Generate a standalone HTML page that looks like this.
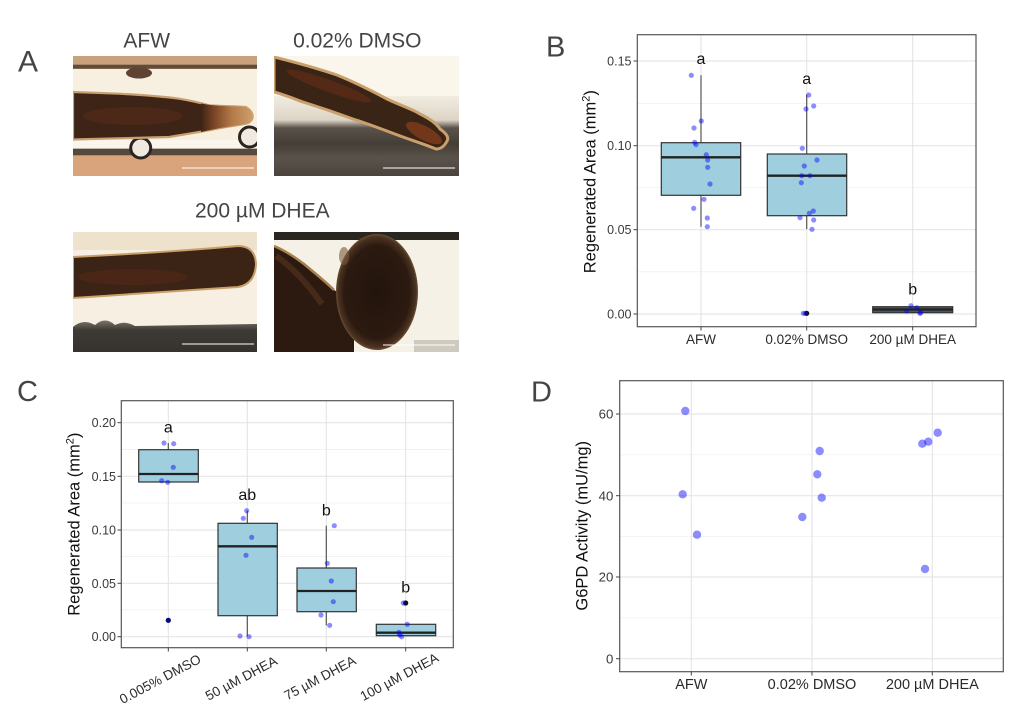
<!DOCTYPE html>
<html><head><meta charset="utf-8"><style>
html,body{margin:0;padding:0;background:#fff;}
svg{display:block;font-family:"Liberation Sans",Arial,sans-serif;}
</style></head><body>
<svg width="1026" height="710" viewBox="0 0 1026 710" xmlns="http://www.w3.org/2000/svg">
<defs>
<linearGradient id="tip1" x1="0" x2="1" y1="0" y2="0"><stop offset="0" stop-color="#3d2416"/><stop offset="0.25" stop-color="#7a4426"/><stop offset="0.6" stop-color="#b37a48"/><stop offset="1" stop-color="#cf9e6a"/></linearGradient>
<linearGradient id="bot2" x1="0" x2="0" y1="0" y2="1"><stop offset="0" stop-color="#f2ece0"/><stop offset="0.3" stop-color="#dcd4c6"/><stop offset="0.4" stop-color="#5a524a"/><stop offset="0.6" stop-color="#443e38"/><stop offset="0.78" stop-color="#5a524a"/><stop offset="1" stop-color="#4a443e"/></linearGradient>
<linearGradient id="bot3" x1="0" x2="0" y1="0" y2="1"><stop offset="0" stop-color="#7a746c"/><stop offset="0.3" stop-color="#3e3a35"/><stop offset="1" stop-color="#35312c"/></linearGradient>
<radialGradient id="ball" cx="0.5" cy="0.5" r="0.5"><stop offset="0" stop-color="#22140c"/><stop offset="0.8" stop-color="#2c1a10"/><stop offset="0.95" stop-color="#4a3220"/><stop offset="1" stop-color="#6a5032"/></radialGradient>
</defs>
<rect width="1026" height="710" fill="#fff"/>

<!-- ===== Panel A ===== -->
<text x="18" y="71.7" font-size="30" fill="#444">A</text>
<text x="146.7" y="47.3" font-size="21" fill="#444" text-anchor="middle">AFW</text>
<text x="357.3" y="47.3" font-size="21" fill="#444" text-anchor="middle">0.02% DMSO</text>
<text x="262.3" y="217.3" font-size="21" fill="#444" text-anchor="middle">200 µM DHEA</text>

<!-- image 1 -->
<svg x="73" y="56" width="184" height="120">
<rect width="184" height="120" fill="#f7efe0"/>
<rect width="184" height="13" fill="#c9a17b"/>
<rect y="8.7" width="184" height="4" fill="#5e4c3c"/>
<ellipse cx="66" cy="17" rx="13" ry="5.5" fill="#5e4232"/>
<rect y="84" width="184" height="9" fill="#faf6ee"/>
<rect y="92.7" width="184" height="27.3" fill="#d9a37c"/>
<rect y="92.7" width="184" height="6.6" fill="#55483c"/>
<circle cx="67.7" cy="92" r="10" fill="#efe9df" stroke="#2a2420" stroke-width="3"/>
<circle cx="176.5" cy="81" r="10" fill="#efe9df" stroke="#2a2420" stroke-width="3"/>
<path d="M0,36 C15,36.5 30,37 46,37.7 C70,39 90,40.5 106,42.7 C120,45 128,47 136,49.3 C150,50 165,50.5 172.7,51 Q181,56 179.3,62.7 Q177,67 172.7,67.7 C160,70 145,72 136,74.3 C120,77 108,79 96,81 C60,82 30,83 0,83.5 Z" fill="#3d2416" stroke="#c8a070" stroke-width="2.2"/>
<path d="M128,47.5 C140,49.8 150,50 172.7,51 Q181,56 179.3,62.7 Q177,67 172.7,67.7 C160,70 145,72 128,76 Z" fill="url(#tip1)"/>
<ellipse cx="60" cy="60" rx="50" ry="9" fill="#5a2c18" opacity="0.5"/>
<line x1="109" y1="112" x2="181" y2="112" stroke="#fff" stroke-width="1"/>
</svg>

<!-- image 2 -->
<svg x="274" y="56" width="185" height="120">
<rect width="185" height="120" fill="#faf6ec"/>
<rect y="40" width="185" height="80" fill="url(#bot2)"/>
<path d="M0,1 C20,6 45,13 63,19 C85,28 100,36 113,43 C128,50 140,54 146,58 C156,63 162,67 166,73 Q176,80 173,85 Q169,93 162,93 C150,88 140,85 129,81 C110,74 95,68 79,63 C60,56 45,51 29,46 C18,42 8,38 0,36 Z" fill="#3a2416" stroke="#c9a06c" stroke-width="3"/>
<ellipse cx="150" cy="77" rx="20" ry="7" transform="rotate(28 150 77)" fill="#8a401e" opacity="0.7"/>
<ellipse cx="55" cy="30" rx="45" ry="6" transform="rotate(20 55 30)" fill="#6a2e18" opacity="0.55"/>
<line x1="109" y1="112" x2="181" y2="112" stroke="#fff" stroke-width="1"/>
</svg>

<!-- image 3 -->
<svg x="73" y="232" width="184" height="120">
<rect width="184" height="120" fill="#f6efe2"/>
<rect width="184" height="18" fill="#ead9c0" opacity="0.6"/>
<path d="M0,95 Q10,86 22,93 Q32,84 42,93 Q52,88 62,94 L184,92 L184,120 L0,120 Z" fill="url(#bot3)"/>
<path d="M0,25 C60,22 120,18 165,14 Q182,14 183,32 Q182,52 165,55 C120,58 60,62 0,66 Z" fill="#3b2316" stroke="#c8a068" stroke-width="2"/>
<ellipse cx="60" cy="45" rx="55" ry="8" fill="#5a2a18" opacity="0.5"/>
<line x1="109" y1="112" x2="181" y2="112" stroke="#fff" stroke-width="1"/>
</svg>

<!-- image 4 -->
<svg x="274" y="232" width="185" height="120">
<rect width="185" height="120" fill="#f6f1e6"/>
<rect x="140" y="108" width="45" height="12" fill="#cfcac0"/>
<path d="M0,14 C10,18 22,26 30,32 C42,42 52,50 60,58 L80,70 L80,120 L0,120 Z" fill="#2c1a10"/>
<path d="M0,14 C10,18 22,26 30,32 C42,42 52,50 60,58" stroke="#a8804e" stroke-width="2.5" fill="none"/>
<path d="M2,24 C14,32 30,47 48,72" stroke="#5a3420" stroke-width="6" fill="none" opacity="0.6"/>
<rect width="185" height="8" fill="#2a2620"/>
<ellipse cx="103" cy="60" rx="41" ry="58" fill="url(#ball)"/>
<ellipse cx="70" cy="24" rx="5" ry="9" fill="#7a5a3a" opacity="0.6"/>
<line x1="109" y1="113" x2="181" y2="113" stroke="#fff" stroke-width="1"/>
</svg>

<!-- ===== Panel B ===== -->
<text x="546" y="56.7" font-size="29" fill="#444">B</text>
<g stroke="#f1f1f1" stroke-width="0.8">
<line x1="637.3" x2="976" y1="271.8" y2="271.8"/>
<line x1="637.3" x2="976" y1="187.7" y2="187.7"/>
<line x1="637.3" x2="976" y1="103.3" y2="103.3"/>
</g>
<g stroke="#e2e2e2" stroke-width="1">
<line x1="637.3" x2="976" y1="314" y2="314"/>
<line x1="637.3" x2="976" y1="229.7" y2="229.7"/>
<line x1="637.3" x2="976" y1="145.7" y2="145.7"/>
<line x1="637.3" x2="976" y1="61" y2="61"/>
<line x1="701" x2="701" y1="34.7" y2="326.7"/>
<line x1="806.7" x2="806.7" y1="34.7" y2="326.7"/>
<line x1="912.7" x2="912.7" y1="34.7" y2="326.7"/>
</g>
<g stroke="#555" stroke-width="1.2">
<line x1="701" x2="701" y1="75.3" y2="142.7"/>
<line x1="701" x2="701" y1="195.3" y2="226.7"/>
<line x1="806.7" x2="806.7" y1="95" y2="154"/>
<line x1="806.7" x2="806.7" y1="215.7" y2="229"/>
</g>
<g fill="#9fcfdf" stroke="#333" stroke-width="1.2">
<rect x="661.3" y="142.7" width="79.4" height="52.6"/>
<rect x="767.3" y="154" width="79.4" height="61.7"/>
<rect x="872.7" y="306.7" width="80" height="6" fill="#4a5a60"/>
</g>
<g stroke="#222" stroke-width="2.3">
<line x1="661.3" x2="740.7" y1="157.3" y2="157.3"/>
<line x1="767.3" x2="846.7" y1="175.7" y2="175.7"/>
<line x1="872.7" x2="952.7" y1="309.5" y2="309.5"/>
</g>
<circle cx="806.7" cy="313.3" r="2.6" fill="#111"/>
<g fill="#0000ff" fill-opacity="0.45">
<circle cx="691.3" cy="75.3" r="2.6"/><circle cx="701.3" cy="121" r="2.6"/><circle cx="694" cy="128" r="2.6"/><circle cx="694.7" cy="142.3" r="2.6"/><circle cx="696" cy="144.7" r="2.6"/><circle cx="706.3" cy="154.7" r="2.6"/><circle cx="707.7" cy="160" r="2.6"/><circle cx="707.7" cy="167.3" r="2.6"/><circle cx="710" cy="184" r="2.6"/><circle cx="704" cy="199.3" r="2.6"/><circle cx="693.7" cy="208.3" r="2.6"/><circle cx="707.3" cy="218" r="2.6"/><circle cx="707.3" cy="226.7" r="2.6"/>
<circle cx="808.7" cy="95" r="2.6"/><circle cx="806" cy="109" r="2.6"/><circle cx="813.7" cy="106" r="2.6"/><circle cx="802.3" cy="148.3" r="2.6"/><circle cx="817" cy="160" r="2.6"/><circle cx="804.3" cy="166" r="2.6"/><circle cx="801.7" cy="175.7" r="2.6"/><circle cx="810" cy="175.7" r="2.6"/><circle cx="801.3" cy="182.7" r="2.6"/><circle cx="813.3" cy="211" r="2.6"/><circle cx="809.3" cy="213.3" r="2.6"/><circle cx="800" cy="217.7" r="2.6"/><circle cx="813.7" cy="220" r="2.6"/><circle cx="812" cy="229.3" r="2.6"/><circle cx="803.3" cy="313.3" r="2.6"/><circle cx="805.3" cy="313.3" r="2.6"/>
<circle cx="906.7" cy="311" r="2.6"/><circle cx="911" cy="305.7" r="2.6"/><circle cx="916.7" cy="307.7" r="2.6"/><circle cx="920.7" cy="312.7" r="2.6"/><circle cx="920" cy="313.3" r="2.6"/>
</g>
<g font-size="16" fill="#111" text-anchor="middle">
<text x="701" y="64">a</text>
<text x="806.7" y="84">a</text>
<text x="912.7" y="294.3">b</text>
</g>
<rect x="637.3" y="34.7" width="338.7" height="292" fill="none" stroke="#555" stroke-width="1.2"/>
<g stroke="#444" stroke-width="1">
<line x1="633.5" x2="637.3" y1="314" y2="314"/><line x1="633.5" x2="637.3" y1="229.7" y2="229.7"/><line x1="633.5" x2="637.3" y1="145.7" y2="145.7"/><line x1="633.5" x2="637.3" y1="61" y2="61"/>
<line x1="701" x2="701" y1="326.7" y2="330.5"/><line x1="806.7" x2="806.7" y1="326.7" y2="330.5"/><line x1="912.7" x2="912.7" y1="326.7" y2="330.5"/>
</g>
<g font-size="12.5" fill="#3a3a3a" text-anchor="end">
<text x="631.5" y="318.5">0.00</text>
<text x="631.5" y="234.2">0.05</text>
<text x="631.5" y="150.2">0.10</text>
<text x="631.5" y="65.5">0.15</text>
</g>
<g font-size="13.5" fill="#2a2a2a" text-anchor="middle">
<text x="701" y="344">AFW</text>
<text x="806.7" y="344">0.02% DMSO</text>
<text x="912.7" y="344">200 µM DHEA</text>
</g>
<text transform="translate(595.5,181.7) rotate(-90)" font-size="16.5" fill="#111" text-anchor="middle">Regenerated Area (mm<tspan dy="-6" font-size="11">2</tspan><tspan dy="6">)</tspan></text>

<!-- ===== Panel C ===== -->
<text x="17" y="401" font-size="29" fill="#444">C</text>
<g stroke="#f1f1f1" stroke-width="0.8">
<line x1="121.3" x2="453.3" y1="609.95" y2="609.95"/>
<line x1="121.3" x2="453.3" y1="556.45" y2="556.45"/>
<line x1="121.3" x2="453.3" y1="502.95" y2="502.95"/>
<line x1="121.3" x2="453.3" y1="449.45" y2="449.45"/>
</g>
<g stroke="#e2e2e2" stroke-width="1">
<line x1="121.3" x2="453.3" y1="636.7" y2="636.7"/>
<line x1="121.3" x2="453.3" y1="583.3" y2="583.3"/>
<line x1="121.3" x2="453.3" y1="530" y2="530"/>
<line x1="121.3" x2="453.3" y1="476.3" y2="476.3"/>
<line x1="121.3" x2="453.3" y1="422.7" y2="422.7"/>
<line x1="168.3" x2="168.3" y1="400.7" y2="647.7"/>
<line x1="247.3" x2="247.3" y1="400.7" y2="647.7"/>
<line x1="326.3" x2="326.3" y1="400.7" y2="647.7"/>
<line x1="405.7" x2="405.7" y1="400.7" y2="647.7"/>
</g>
<g stroke="#555" stroke-width="1.2">
<line x1="168.3" x2="168.3" y1="443" y2="449.7"/>
<line x1="247.3" x2="247.3" y1="510.7" y2="523.3"/>
<line x1="247.3" x2="247.3" y1="615.7" y2="636.3"/>
<line x1="326.3" x2="326.3" y1="525.7" y2="568"/>
<line x1="326.3" x2="326.3" y1="611.7" y2="625.3"/>
</g>
<g fill="#9fcfdf" stroke="#333" stroke-width="1.2">
<rect x="138.7" y="449.7" width="59.6" height="32.3"/>
<rect x="218" y="523.3" width="59.3" height="92.4"/>
<rect x="297" y="568" width="59.3" height="43.7"/>
<rect x="376.3" y="624.3" width="59.4" height="11.4"/>
</g>
<g stroke="#222" stroke-width="2.3">
<line x1="138.7" x2="198.3" y1="474" y2="474"/>
<line x1="218" x2="277.3" y1="546.3" y2="546.3"/>
<line x1="297" x2="356.3" y1="591" y2="591"/>
<line x1="376.3" x2="435.7" y1="632.7" y2="632.7"/>
</g>
<circle cx="168.3" cy="620.3" r="2.6" fill="#111"/>
<circle cx="405.7" cy="603" r="2.6" fill="#111"/>
<g fill="#0000ff" fill-opacity="0.45">
<circle cx="164" cy="443" r="2.6"/><circle cx="173.7" cy="443.7" r="2.6"/><circle cx="173.3" cy="467.3" r="2.6"/><circle cx="161.7" cy="480.7" r="2.6"/><circle cx="167.7" cy="482.3" r="2.6"/><circle cx="168.3" cy="620.3" r="2.6"/>
<circle cx="246.7" cy="510.7" r="2.6"/><circle cx="243.3" cy="518.3" r="2.6"/><circle cx="251.7" cy="537.3" r="2.6"/><circle cx="246" cy="555.3" r="2.6"/><circle cx="240" cy="636" r="2.6"/><circle cx="249" cy="636.7" r="2.6"/>
<circle cx="334.3" cy="525.7" r="2.6"/><circle cx="327.3" cy="563.3" r="2.6"/><circle cx="331.3" cy="581" r="2.6"/><circle cx="333.3" cy="601.7" r="2.6"/><circle cx="321" cy="615" r="2.6"/><circle cx="329.7" cy="625.3" r="2.6"/>
<circle cx="403.3" cy="603" r="2.6"/><circle cx="407.3" cy="624.3" r="2.6"/><circle cx="399" cy="632.3" r="2.6"/><circle cx="399.7" cy="635" r="2.6"/><circle cx="401.7" cy="636.7" r="2.6"/>
</g>
<g font-size="16" fill="#111" text-anchor="middle">
<text x="168.3" y="432.3">a</text>
<text x="247.3" y="500">ab</text>
<text x="326.3" y="515.7">b</text>
<text x="405.7" y="592.3">b</text>
</g>
<rect x="121.3" y="400.7" width="332" height="247" fill="none" stroke="#555" stroke-width="1.2"/>
<g stroke="#444" stroke-width="1">
<line x1="117.5" x2="121.3" y1="636.7" y2="636.7"/><line x1="117.5" x2="121.3" y1="583.3" y2="583.3"/><line x1="117.5" x2="121.3" y1="530" y2="530"/><line x1="117.5" x2="121.3" y1="476.3" y2="476.3"/><line x1="117.5" x2="121.3" y1="422.7" y2="422.7"/>
<line x1="168.3" x2="168.3" y1="647.7" y2="651.5"/><line x1="247.3" x2="247.3" y1="647.7" y2="651.5"/><line x1="326.3" x2="326.3" y1="647.7" y2="651.5"/><line x1="405.7" x2="405.7" y1="647.7" y2="651.5"/>
</g>
<g font-size="12.5" fill="#3a3a3a" text-anchor="end">
<text x="116" y="641.2">0.00</text>
<text x="116" y="587.8">0.05</text>
<text x="116" y="534.5">0.10</text>
<text x="116" y="480.8">0.15</text>
<text x="116" y="427.2">0.20</text>
</g>
<g font-size="13.5" fill="#2a2a2a" text-anchor="middle" dominant-baseline="central">
<text transform="translate(160.2,679.2) rotate(-28)">0.005% DMSO</text>
<text transform="translate(241.3,678.3) rotate(-28)">50 µM DHEA</text>
<text transform="translate(320,678) rotate(-28)">75 µM DHEA</text>
<text transform="translate(399.3,677) rotate(-28)">100 µM DHEA</text>
</g>
<text transform="translate(79.3,524.2) rotate(-90)" font-size="16.5" fill="#111" text-anchor="middle">Regenerated Area (mm<tspan dy="-6" font-size="11">2</tspan><tspan dy="6">)</tspan></text>

<!-- ===== Panel D ===== -->
<text x="531" y="401.5" font-size="29" fill="#444">D</text>
<g stroke="#f1f1f1" stroke-width="0.8">
<line x1="619.7" x2="1003.3" y1="617.9" y2="617.9"/>
<line x1="619.7" x2="1003.3" y1="536.35" y2="536.35"/>
<line x1="619.7" x2="1003.3" y1="454.8" y2="454.8"/>
</g>
<g stroke="#e2e2e2" stroke-width="1">
<line x1="619.7" x2="1003.3" y1="658.7" y2="658.7"/>
<line x1="619.7" x2="1003.3" y1="577" y2="577"/>
<line x1="619.7" x2="1003.3" y1="495.7" y2="495.7"/>
<line x1="619.7" x2="1003.3" y1="414" y2="414"/>
<line x1="691.3" x2="691.3" y1="380.7" y2="671.7"/>
<line x1="812" x2="812" y1="380.7" y2="671.7"/>
<line x1="932.3" x2="932.3" y1="380.7" y2="671.7"/>
</g>
<g fill="#0000ff" fill-opacity="0.45">
<circle cx="685.3" cy="411" r="4.2"/><circle cx="682.7" cy="494.3" r="4.2"/><circle cx="697" cy="534.7" r="4.2"/>
<circle cx="819.7" cy="451" r="4.2"/><circle cx="817.3" cy="474.3" r="4.2"/><circle cx="821.7" cy="497.7" r="4.2"/><circle cx="802.3" cy="517" r="4.2"/>
<circle cx="922.3" cy="443.7" r="4.2"/><circle cx="928.3" cy="441.7" r="4.2"/><circle cx="937.7" cy="432.7" r="4.2"/><circle cx="925" cy="569" r="4.2"/>
</g>
<rect x="619.7" y="380.7" width="383.6" height="291" fill="none" stroke="#555" stroke-width="1.2"/>
<g stroke="#444" stroke-width="1">
<line x1="616" x2="619.7" y1="658.7" y2="658.7"/><line x1="616" x2="619.7" y1="577" y2="577"/><line x1="616" x2="619.7" y1="495.7" y2="495.7"/><line x1="616" x2="619.7" y1="414" y2="414"/>
<line x1="691.3" x2="691.3" y1="671.7" y2="675.5"/><line x1="812" x2="812" y1="671.7" y2="675.5"/><line x1="932.3" x2="932.3" y1="671.7" y2="675.5"/>
</g>
<g font-size="13.2" fill="#3a3a3a" text-anchor="end">
<text x="613.3" y="663.4">0</text>
<text x="613.3" y="581.7">20</text>
<text x="613.3" y="500.4">40</text>
<text x="613.3" y="418.7">60</text>
</g>
<g font-size="14.5" fill="#2a2a2a" text-anchor="middle">
<text x="691.3" y="689">AFW</text>
<text x="812" y="689">0.02% DMSO</text>
<text x="932.3" y="689">200 µM DHEA</text>
</g>
<text transform="translate(587.5,525.8) rotate(-90)" font-size="16.5" fill="#111" text-anchor="middle">G6PD Activity (mU/mg)</text>
</svg>
</body></html>
